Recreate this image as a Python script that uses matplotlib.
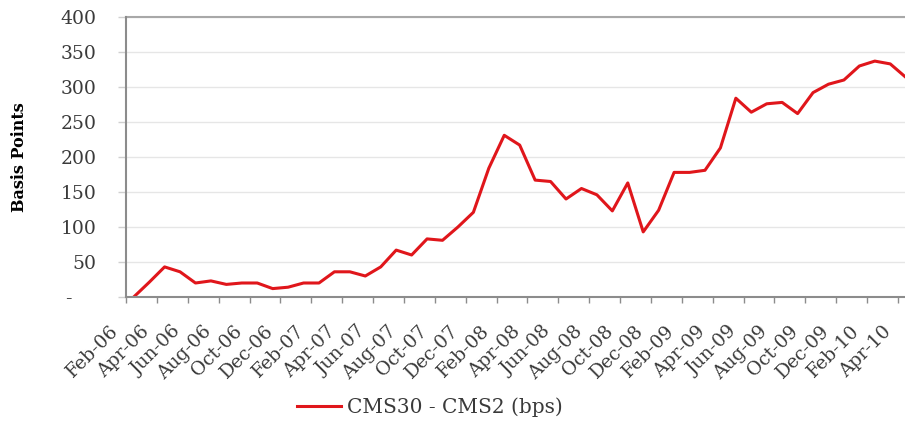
import matplotlib.pyplot as plt
import matplotlib.transforms as mtransforms


# monthly spread, Feb-06 .. Apr-10
spread = [0, 21, 43, 36, 20, 23, 18, 20, 20, 12, 14,
          20, 20, 36, 36, 30, 43, 67, 60, 83, 81, 100, 121,
          184, 231, 217, 167, 165, 140, 155, 146, 123, 163, 93, 124,
          178, 178, 181, 213, 284, 264, 276, 278, 262, 292, 304, 310,
          330, 337, 333, 314]

tick_labels = ['Feb-06', 'Apr-06', 'Jun-06', 'Aug-06', 'Oct-06', 'Dec-06',
               'Feb-07', 'Apr-07', 'Jun-07', 'Aug-07', 'Oct-07', 'Dec-07',
               'Feb-08', 'Apr-08', 'Jun-08', 'Aug-08', 'Oct-08', 'Dec-08',
               'Feb-09', 'Apr-09', 'Jun-09', 'Aug-09', 'Oct-09', 'Dec-09',
               'Feb-10', 'Apr-10']

y_ticks = [0, 50, 100, 150, 200, 250, 300, 350, 400]
y_labels = ['-    ', '50', '100', '150', '200', '250', '300', '350', '400']

red = '#E0161B'
spine_col = '#8C8C8C'
text_col = '#3A3A3A'

plt.rcParams['font.family'] = 'DejaVu Serif'

fig = plt.figure(figsize=(9.05, 4.23), dpi=100)
# axis runs a bit past the right edge of the picture (it is cropped)
ax = fig.add_axes([126 / 905, 126 / 423, 787.4 / 905, 280 / 423])

x = list(range(len(spread)))
ax.plot(x, spread, color=red, lw=2.2, label='CMS30 - CMS2 (bps)')

ax.set_xlim(-0.5, len(spread) - 0.5)
ax.set_ylim(0, 400)

# tick marks between categories every 2 months, labels under category centres
ax.set_xticks([i - 0.5 for i in range(0, len(spread) + 1, 2)])
ax.set_xticklabels([])
ax.set_xticks(list(range(0, len(spread), 2)), tick_labels, minor=True,
              rotation=45, ha='right', va='top', rotation_mode='anchor',
              fontsize=13.5, color=text_col)
ax.tick_params(axis='x', which='major', direction='out', length=4.5,
               width=1, color=spine_col)
ax.tick_params(axis='x', which='minor', length=0, pad=18)
offset = mtransforms.ScaledTranslation(-0.24, 0, fig.dpi_scale_trans)
for lab in ax.get_xticklabels(minor=True):
    lab.set_transform(lab.get_transform() + offset)

ax.set_yticks(y_ticks, y_labels, fontsize=13.5, color=text_col)
ax.tick_params(axis='y', direction='out', length=6, width=1,
               color='#D0D0D0', pad=15)

ax.grid(axis='y', color='#E6E6E6', lw=1)
ax.set_axisbelow(True)

for s in ['top', 'right']:
    ax.spines[s].set_visible(False)
ax.spines['left'].set_color(spine_col)
ax.spines['bottom'].set_color(spine_col)
ax.spines['left'].set_linewidth(1.5)
ax.spines['bottom'].set_linewidth(1.5)
ax.axhline(400, color='#A8A8A8', lw=1.5, clip_on=False)

ax.set_ylabel('Basis Points', fontsize=11.5, fontweight='bold')
ax.yaxis.set_label_coords(-(126 - 28) / 787.4, 0.5)

fig.legend(loc='center', bbox_to_anchor=(430 / 905, 1 - 407 / 423),
           frameon=False, fontsize=14.5, handlelength=2.2, handletextpad=0.3,
           labelcolor=text_col)

plt.savefig('out.png', dpi=100)
